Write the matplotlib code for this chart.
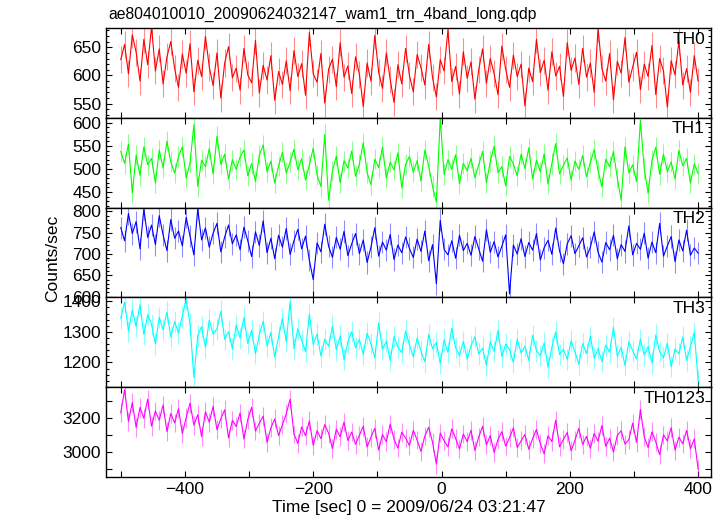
import numpy as np
import matplotlib
matplotlib.use("Agg")
import matplotlib.pyplot as plt
from matplotlib.ticker import MultipleLocator

time = np.arange(-500, 401, 6)

# count rates, one list per band
th0 = [628, 655, 603, 672, 641, 590, 664, 619, 686, 608, 647, 585, 633, 660, 612,
       579, 638, 604, 656, 571, 627, 598, 669, 615, 582, 640, 560, 622, 651, 596,
       613, 574, 648, 601, 587, 662, 569, 618, 592, 635, 556, 607, 584, 626, 573,
       644, 598, 621, 565, 676, 603, 588, 639, 551, 611, 629, 580, 658, 597, 617,
       568, 633, 602, 545, 622, 590, 671, 606, 577, 640, 593, 552, 619, 585, 648,
       600, 571, 637, 614, 583, 655, 596, 562, 628, 608, 681, 589, 616, 567, 642,
       595, 624, 558, 610, 647, 586, 630, 603, 566, 652, 611, 579, 636, 598, 620,
       546, 613, 589, 664, 605, 627, 574, 642, 599, 616, 563, 658, 609, 631, 584,
       648, 597, 622, 570, 683, 612, 590, 639, 557, 625, 604, 667, 588, 615, 641,
       575, 620, 598, 653, 566, 630, 608, 544, 626, 601, 661, 583, 612, 570, 635,
       590]
th1 = [538, 512, 554, 448, 530, 486, 548, 509, 523, 470, 541, 502, 560, 515, 491,
       527, 548, 480, 513, 596, 462, 519, 505, 544, 489, 571, 510, 532, 478, 520,
       499, 526, 541, 485, 512, 473, 530, 552, 494, 517, 469, 507, 536, 491, 515,
       543, 498, 522, 476, 509, 545, 487, 462, 575, 432, 496, 528, 470, 518, 502,
       539, 484, 511, 557, 492, 466, 521, 503, 547, 480, 515, 498, 535, 459, 510,
       527, 493, 518, 474, 541, 506, 462, 428, 611, 488, 520, 499, 531, 468, 512,
       496, 523, 481, 509, 538, 470, 516, 549, 492, 505, 463, 527, 511, 485, 532,
       501, 546, 478, 519, 494, 533, 467, 512, 555, 489, 508, 524, 476, 517, 499,
       529, 483, 514, 542, 497, 461, 521, 505, 538, 480, 432, 548, 491, 509, 472,
       605, 501, 447, 519, 547, 488, 532, 494, 515, 478, 540, 507, 523, 469, 511,
       490]
th2 = [762, 731, 795, 748, 776, 712, 805, 739, 768, 722, 790, 745, 708, 781, 737,
       754, 719, 786, 742, 698, 806, 733, 761, 716, 749, 772, 705, 740, 768, 724,
       745, 710, 763, 731, 694, 752, 720, 778, 703, 737, 689, 744, 716, 760, 699,
       731, 758, 712, 742, 685, 640, 726, 705, 770, 718, 692, 739, 711, 753, 696,
       724, 748, 701, 733, 680, 716, 762, 695, 728, 709, 746, 687, 721, 703, 740,
       713, 692, 735, 706, 754, 684, 722, 630, 779, 711, 698, 731, 690, 744, 708,
       725, 697, 741, 712, 683, 757, 704, 729, 693, 718, 745, 606, 721, 700, 736,
       694, 727, 709, 748, 686, 715, 732, 699, 761, 707, 677, 724, 743, 701, 719,
       738, 693, 716, 752, 704, 681, 727, 710, 744, 689, 722, 706, 766, 698, 725,
       711, 749, 690, 728, 703, 772, 695, 719, 741, 682, 733, 707, 756, 697, 714,
       702]
th3 = [1345, 1398, 1302, 1372, 1318, 1389, 1291, 1356, 1324, 1261, 1348, 1307, 1365, 1283, 1334,
       1296, 1352, 1408, 1326, 1150, 1288, 1317, 1249, 1339, 1293, 1310, 1368, 1276, 1301, 1245,
       1322, 1280, 1347, 1262, 1306, 1229, 1291, 1335, 1254, 1298, 1217, 1284, 1344, 1268, 1400,
       1246, 1310, 1272, 1236, 1358, 1259, 1293, 1221, 1276, 1253, 1319, 1241, 1287, 1209, 1267,
       1301, 1248, 1275, 1227, 1296, 1262, 1214, 1329, 1243, 1270, 1206, 1285, 1250, 1232, 1303,
       1258, 1219, 1280, 1237, 1202, 1291, 1245, 1265, 1196, 1274, 1233, 1312, 1248, 1223, 1269,
       1211, 1255, 1284, 1228, 1247, 1191, 1268, 1236, 1305, 1219, 1260, 1242, 1200, 1276, 1231,
       1253, 1207, 1289, 1238, 1222, 1264, 1185, 1249, 1300, 1226, 1243, 1210, 1271, 1235, 1194,
       1262, 1229, 1286, 1214, 1245, 1203, 1257, 1233, 1315, 1221, 1249, 1190, 1268, 1238, 1211,
       1276, 1224, 1252, 1198, 1290, 1235, 1216, 1263, 1186, 1244, 1228, 1283, 1207, 1251, 1299,
       1140]
th0123 = [3230, 3365, 3180, 3290, 3145, 3262, 3198, 3310, 3152, 3241, 3187, 3276, 3120, 3226, 3171,
          3254, 3109, 3203, 3287, 3158, 3219, 3092, 3236, 3175, 3268, 3131, 3197, 3248, 3083, 3186,
          3150, 3229, 3077, 3191, 3262, 3124, 3170, 3211, 3058, 3142, 3195, 3097, 3160, 3225, 3310,
          3106, 3052, 3148, 3097, 3183, 3040, 3126, 3079, 3162, 3111, 3021, 3135, 3090, 3176, 3068,
          3118, 3046, 3099, 3152, 3031, 3087, 3140, 3012, 3103, 3061, 3165, 3075, 3024, 3117, 3083,
          3039, 3128, 3071, 3005, 3095, 3146, 3058, 2930, 3112, 3067, 3031, 3137, 3080, 3019, 3106,
          3062, 3128, 3010, 3089, 3151, 3043, 3097, 2998, 3074, 3120, 3036, 3085, 3142, 3028, 3066,
          3104, 3017, 3079, 3133, 3050, 2990, 3096, 3062, 3188, 3031, 3075, 3116, 3008, 3070, 3139,
          3045, 3093, 3022, 3110, 3064, 3156, 3034, 3082, 3001, 3098, 3125, 3047, 3073, 3170, 3057,
          3250, 3090, 3027, 3119, 3060, 2985, 3101, 3066, 3143, 3012, 3088, 3049, 3127, 3020, 3078,
          2900]

# typical error bar half-length per band
errs = [24, 22, 26, 35, 55]

bands = ["TH0", "TH1", "TH2", "TH3", "TH0123"]
series = [th0, th1, th2, th3, th0123]
colors = ["#ff0000", "#00ff00", "#0000ff", "#00ffff", "#ff00ff"]
ylims = [(525, 684), (416, 611), (598, 809), (1119, 1413), (2855, 3380)]
ymajor = [50, 50, 50, 100, 200]
yminor = [10, 10, 10, 20, 100]

plt.rcParams['font.family'] = ['Liberation Sans', 'DejaVu Sans']
plt.rcParams['font.size'] = 12.5

fig = plt.figure(figsize=(7.24, 5.16), dpi=100)
left, right, bottom, top = 0.1464, 0.982, 0.0756, 0.9457
h = (top - bottom) / 5

axes = []
for i, (name, y, c) in enumerate(zip(bands, series, colors)):
    ax = fig.add_axes([left, top - (i + 1) * h, right - left, h],
                      sharex=axes[0] if axes else None)
    ax.errorbar(time, y, yerr=errs[i], fmt='none', ecolor=c, alpha=0.45,
                elinewidth=0.8, capsize=0)
    ax.plot(time, y, color=c, lw=0.8)
    ax.set_ylim(*ylims[i])
    ax.set_xlim(-523, 420)
    ax.yaxis.set_major_locator(MultipleLocator(ymajor[i]))
    ax.yaxis.set_minor_locator(MultipleLocator(yminor[i]))
    ax.xaxis.set_major_locator(MultipleLocator(200))
    ax.xaxis.set_minor_locator(MultipleLocator(100))
    ax.tick_params(axis='both', which='both', direction='in',
                   top=True, right=True, width=0.8, labelsize=12.5)
    ax.tick_params(axis='y', which='major', length=4.5)
    ax.tick_params(axis='y', which='minor', length=2.5)
    ax.tick_params(axis='x', which='both', length=4.5)
    if i == 4:
        ax.tick_params(axis='y', which='minor', length=4.5)
    for s in ax.spines.values():
        s.set_linewidth(1.0)
    ax.text(0.99, 0.96, name, transform=ax.transAxes, ha='right', va='top', fontsize=12.5)
    if i < 4:
        ax.tick_params(axis='x', labelbottom=False)
    axes.append(ax)

fig.text(0.149, 0.972, "ae804010010_20090624032147_wam1_trn_4band_long.qdp",
         ha='left', va='center', fontsize=11.3)
fig.text(0.072, 0.5, "Counts/sec", rotation=90, ha='center', va='center', fontsize=12.5)
fig.text(0.564, 0.016, "Time [sec] 0 = 2009/06/24 03:21:47", ha='center', va='center', fontsize=12.5)

fig.savefig("out.png", dpi=100)
